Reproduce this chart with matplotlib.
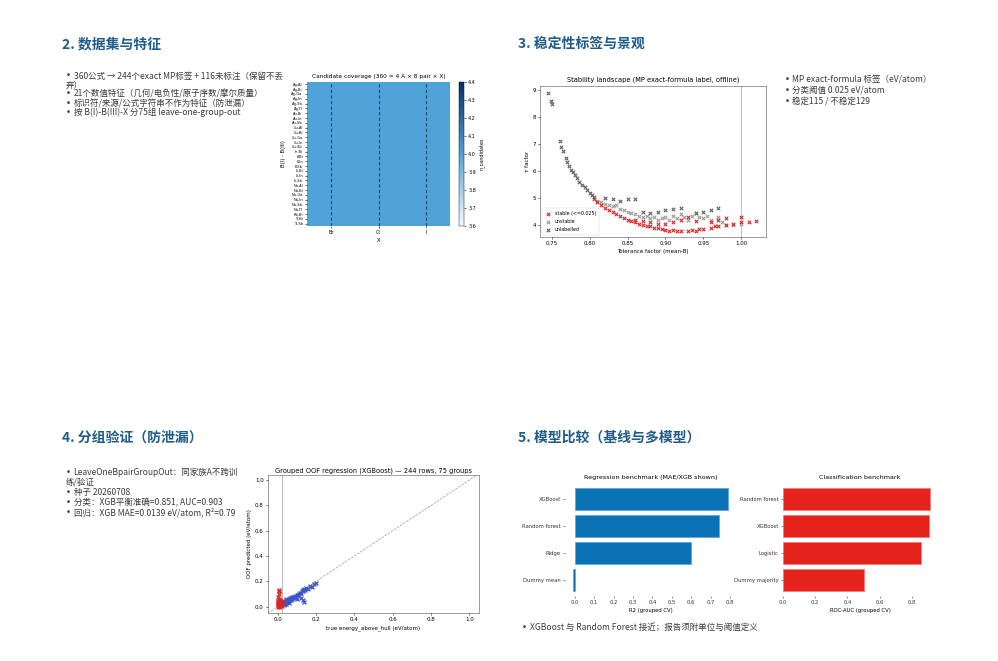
import numpy as np
import matplotlib
matplotlib.use("Agg")
import matplotlib.pyplot as plt
from matplotlib.colors import LinearSegmentedColormap

plt.rcParams['font.family'] = ['DejaVu Sans', 'Noto Sans CJK SC']
CJK = ['Noto Sans CJK SC', 'DejaVu Sans']

# ---------------- data ----------------
pair_labels = ["Ag-Al", "Ag-Bi", "Ag-Ga", "Ag-In", "Ag-Sb", "Ag-Tl", "Au-Bi", "Au-In", "Au-Sb", "Cu-Al",
               "Cu-Bi", "Cu-Ga", "Cu-In", "Cu-Sb", "In-Bi", "K-Bi", "K-In", "K-Sb", "Li-Bi", "Li-In",
               "Li-Sb", "Na-Al", "Na-Bi", "Na-Ga", "Na-In", "Na-Sb", "Na-Tl", "Rb-Bi", "Tl-Bi", "Tl-Sb"]
halides = ["Br", "Cl", "I"]
coverage = [[4, 4, 4], [4, 4, 4], [4, 4, 4], [4, 4, 4], [4, 4, 4], [4, 4, 4],
            [4, 4, 4], [4, 4, 4], [4, 4, 4], [4, 4, 4], [4, 4, 4], [4, 4, 4],
            [4, 4, 4], [4, 4, 4], [4, 4, 4], [4, 4, 4], [4, 4, 4], [4, 4, 4],
            [4, 4, 4], [4, 4, 4], [4, 4, 4], [4, 4, 4], [4, 4, 4], [4, 4, 4],
            [4, 4, 4], [4, 4, 4], [4, 4, 4], [4, 4, 4], [4, 4, 4], [4, 4, 4]]

stable_t = [0.805, 0.81, 0.815, 0.82, 0.825, 0.83, 0.835, 0.84, 0.845, 0.85,
            0.855, 0.86, 0.865, 0.87, 0.875, 0.88, 0.885, 0.89, 0.895, 0.90,
            0.905, 0.91, 0.915, 0.92, 0.93, 0.935, 0.94, 0.945, 0.95, 0.96,
            0.965, 0.97, 0.98, 0.99, 1.00, 1.01, 1.02, 0.90, 0.91, 0.92,
            0.93, 0.94, 0.96, 0.97, 0.98, 1.00, 0.86, 0.87, 0.88, 0.89]
stable_tau = [4.95, 4.85, 4.75, 4.65, 4.55, 4.50, 4.40, 4.35, 4.25, 4.20,
              4.15, 4.10, 4.05, 4.00, 3.98, 3.95, 3.90, 3.88, 3.85, 3.82,
              3.80, 3.82, 3.78, 3.80, 3.80, 3.82, 3.80, 3.85, 3.85, 3.90,
              3.95, 3.95, 4.00, 4.05, 4.10, 4.12, 4.15, 4.05, 4.10, 4.20,
              4.30, 4.15, 4.10, 4.20, 4.25, 4.30, 4.20, 4.15, 4.10, 4.05]
unstable_t = [0.81, 0.815, 0.82, 0.825, 0.83, 0.835, 0.84, 0.845, 0.85, 0.855,
              0.86, 0.865, 0.87, 0.875, 0.88, 0.885, 0.89, 0.895, 0.90, 0.905,
              0.91, 0.915, 0.92, 0.925, 0.93, 0.935, 0.94, 0.945, 0.95, 0.955,
              0.96, 0.97, 0.975, 0.98, 0.99, 1.00]
unstable_tau = [4.90, 4.85, 4.80, 4.75, 4.70, 4.75, 4.60, 4.55, 4.50, 4.45,
                4.40, 4.35, 4.30, 4.35, 4.25, 4.30, 4.20, 4.25, 4.30, 4.20,
                4.35, 4.25, 4.40, 4.30, 4.20, 4.35, 4.45, 4.30, 4.25, 4.35,
                4.20, 4.30, 4.10, 4.00, 4.00, 4.05]
unlab_t = [0.745, 0.748, 0.750, 0.760, 0.762, 0.765, 0.768, 0.770, 0.772, 0.775,
           0.778, 0.780, 0.783, 0.786, 0.790, 0.793, 0.796, 0.800, 0.803, 0.806,
           0.82, 0.83, 0.84, 0.85, 0.86, 0.87, 0.88, 0.89, 0.90, 0.91,
           0.92, 0.94, 0.95, 0.96, 0.97]
unlab_tau = [8.90, 8.60, 8.50, 7.10, 6.90, 6.75, 6.50, 6.35, 6.20, 6.05,
             5.95, 5.85, 5.75, 5.60, 5.50, 5.40, 5.30, 5.20, 5.10, 5.05,
             5.00, 4.95, 4.90, 4.95, 4.95, 4.50, 4.45, 4.50, 4.55, 4.60,
             4.65, 4.45, 4.50, 4.55, 4.62]

red_true = [0.0, 0.002, 0.004, 0.005, 0.006, 0.008, 0.01, 0.012, 0.014, 0.015,
            0.016, 0.018, 0.02, 0.022, 0.024, 0.0, 0.003, 0.007, 0.01, 0.013,
            0.017, 0.021, 0.001, 0.005, 0.009, 0.004, 0.005, 0.006, 0.005, 0.011, 0.019]
red_pred = [0.01, 0.0, 0.02, 0.03, 0.015, 0.005, 0.025, 0.04, 0.02, 0.01,
            0.035, 0.03, 0.02, 0.045, 0.03, 0.03, 0.045, 0.05, 0.0, 0.015,
            0.01, 0.005, 0.04, 0.06, 0.035, 0.08, 0.1, 0.12, 0.13, 0.055, 0.04]
blue_true = [0.026, 0.03, 0.032, 0.035, 0.038, 0.04, 0.042, 0.045, 0.048, 0.05,
             0.053, 0.055, 0.058, 0.06, 0.063, 0.065, 0.068, 0.07, 0.073, 0.075,
             0.078, 0.08, 0.085, 0.09, 0.095, 0.1, 0.105, 0.11, 0.115, 0.12,
             0.125, 0.13, 0.135, 0.14, 0.145, 0.15, 0.16, 0.17, 0.18, 0.19,
             0.2, 0.12, 0.13, 0.14, 0.1, 0.03, 0.045, 0.06]
blue_pred = [0.02, 0.03, 0.01, 0.035, 0.025, 0.04, 0.02, 0.045, 0.035, 0.05,
             0.04, 0.055, 0.045, 0.06, 0.05, 0.065, 0.055, 0.07, 0.06, 0.075,
             0.065, 0.08, 0.075, 0.085, 0.08, 0.09, 0.095, 0.1, 0.11, 0.105,
             0.12, 0.13, 0.125, 0.14, 0.135, 0.15, 0.14, 0.16, 0.155, 0.18,
             0.19, 0.07, 0.05, 0.04, 0.06, 0.045, 0.06, 0.03]

reg_models = ["XGBoost", "Random forest", "Ridge", "Dummy mean"]
reg_r2 = [0.79, 0.745, 0.60, -0.01]
cls_models = ["Random forest", "XGBoost", "Logistic", "Dummy majority"]
cls_auc = [0.91, 0.903, 0.858, 0.50]

title_color = "#1f5c8b"
text_color = "#3a3a3a"

sec_titles = ["2. 数据集与特征", "3. 稳定性标签与景观", "4. 分组验证（防泄漏）", "5. 模型比较（基线与多模型）"]
# (text, has_bullet)
bul2 = [("360公式 → 244个exact MP标签 + 116未标注（保留不丢", True), ("弃）", False),
        ("21个数值特征（几何/电负性/原子序数/摩尔质量）", True),
        ("标识符/来源/公式字符串不作为特征（防泄漏）", True),
        ("按 B(I)-B(III)-X 分75组 leave-one-group-out", True)]
bul3 = [("MP exact-formula 标签（eV/atom）", True), ("分类阈值 0.025 eV/atom", True),
        ("稳定115 / 不稳定129", True)]
bul4 = [("LeaveOneBpairGroupOut：同家族A不跨训", True), ("练/验证", False), ("种子 20260708", True),
        ("分类：XGB平衡准确=0.851, AUC=0.903", True), ("回归：XGB MAE=0.0139 eV/atom, R²=0.79", True)]
bul5 = [("XGBoost 与 Random Forest 接近；报告须附单位与阈值定义", True)]

# ---------------- layout helpers ----------------
W, H = 998, 661
fig = plt.figure(figsize=(W / 100, H / 100), dpi=100)
fig.patch.set_facecolor("white")


def px(l, t, r, b):
    return [l / W, 1 - b / H, (r - l) / W, (b - t) / H]


def ftext(x, y, s, **kw):
    fig.text(x / W, 1 - y / H, s, **kw)


def bullets(x, ys, items, fs=6.1):
    for y, (s, b) in zip(ys, items):
        if b:
            ftext(x, y, "•", fontsize=fs, color=text_color, family='DejaVu Sans', va='center')
            ftext(x + 7.5, y, s, fontsize=fs, color=text_color, family=CJK, va='center')
        else:
            ftext(x, y, s, fontsize=fs, color=text_color, family=CJK, va='center')


# section titles
for (x, y), s in zip([(62, 44), (518, 44), (62, 438), (518, 438)], sec_titles):
    ftext(x, y, s, fontsize=10, fontweight='bold', color=title_color, family=CJK, va='center')

bullets(66, [76, 85, 94, 103.5, 112.5], bul2)
bullets(785, [80, 90.5, 101], bul3)
bullets(66, [472.5, 482, 492.5, 502.5, 512.5], bul4)
bullets(522, [627], bul5)

# ---------------- panel 2: heatmap ----------------
cov_cmap = LinearSegmentedColormap.from_list("cov", ["#f7fbff", "#4ea3d8", "#08306b"])
axh = fig.add_axes(px(307, 82, 450, 226))
cov = np.array(coverage, dtype=float)
mesh = axh.pcolormesh(cov, cmap=cov_cmap, vmin=3.6, vmax=4.4)
axh.set_xlim(0, len(halides))
axh.set_ylim(len(pair_labels), 0)
for i in range(len(halides)):
    axh.axvline(i + 0.5, color="#24466a", ls=(0, (3, 2)), lw=0.8)
axh.set_xticks(np.arange(len(halides)) + 0.5)
axh.set_xticklabels(halides, fontsize=3.5)
axh.set_yticks(np.arange(len(pair_labels)) + 0.5)
axh.set_yticklabels(pair_labels, fontsize=2.6)
axh.tick_params(length=1.5, width=0.4, pad=1.5)
axh.set_xlabel("X", fontsize=3.8, labelpad=2)
axh.set_ylabel("B(I) - B(III)", fontsize=3.8, labelpad=4)
axh.set_title("Candidate coverage (360 = 4 A × 8 pair × X)", fontsize=4.2, pad=3)
for sp in axh.spines.values():
    sp.set_visible(False)
cax = fig.add_axes(px(459, 82, 464, 226))
cb = fig.colorbar(mesh, cax=cax)
cb.set_ticks([3.6, 3.7, 3.8, 3.9, 4.0, 4.1, 4.2, 4.3, 4.4])
cb.ax.tick_params(labelsize=3.5, length=1.5, width=0.4, pad=1.5)
cb.set_label("n_candidates", fontsize=3.5, labelpad=2)
cb.outline.set_linewidth(0.3)

# ---------------- panel 3: stability landscape ----------------
ax3 = fig.add_axes(px(540, 86, 766, 237))
ax3.scatter(stable_t, stable_tau, marker='x', s=6, lw=0.8, color="#d62728", label="stable (<=0.025)", zorder=3)
ax3.scatter(unstable_t, unstable_tau, marker='x', s=6, lw=0.8, color="#9a9a9a", label="unstable", zorder=2)
ax3.scatter(unlab_t, unlab_tau, marker='x', s=6, lw=0.8, color="#5e5e5e", label="unlabelled", zorder=2)
ax3.axvline(1.0, color="#bdbdbd", lw=0.7)
ax3.set_xlim(0.734, 1.033)
ax3.set_ylim(3.56, 9.15)
ax3.set_xticks([0.75, 0.80, 0.85, 0.90, 0.95, 1.00])
ax3.set_yticks([4, 5, 6, 7, 8, 9])
ax3.tick_params(labelsize=4, length=1.5, width=0.4, pad=1.5)
ax3.set_xlabel("Tolerance factor (mean-B)", fontsize=4, labelpad=2)
ax3.set_ylabel("τ factor", fontsize=4, labelpad=2)
ax3.set_title("Stability landscape (MP exact-formula label, offline)", fontsize=4.8, pad=3)
for sp in ax3.spines.values():
    sp.set_linewidth(0.4)
    sp.set_color("#555555")
leg = ax3.legend(loc="lower left", fontsize=3.4, markerscale=1.0, handlelength=1.2,
                 borderpad=0.6, labelspacing=0.6, frameon=True)
leg.get_frame().set_linewidth(0.3)

# ---------------- panel 4: grouped OOF regression ----------------
ax4 = fig.add_axes(px(268, 475, 479, 613))
ax4.plot([-0.05, 1.05], [-0.05, 1.05], ls='--', color="#999999", lw=0.5, zorder=1)
ax4.axvline(0.025, color="#bbbbbb", lw=0.7, zorder=1)
ax4.scatter(blue_true, blue_pred, marker='x', s=8, lw=0.9, color="#3a55c8", zorder=3)
ax4.scatter(red_true, red_pred, marker='x', s=8, lw=0.9, color="#d62728", zorder=4)
ax4.set_xlim(-0.05, 1.05)
ax4.set_ylim(-0.05, 1.04)
ax4.set_xticks([0.0, 0.2, 0.4, 0.6, 0.8, 1.0])
ax4.set_yticks([0.0, 0.2, 0.4, 0.6, 0.8, 1.0])
ax4.tick_params(labelsize=4, length=1.5, width=0.4, pad=1.5)
ax4.set_xlabel("true energy_above_hull (eV/atom)", fontsize=4, labelpad=2)
ax4.set_ylabel("OOF predicted (eV/atom)", fontsize=4, labelpad=2)
ax4.set_title("Grouped OOF regression (XGBoost) — 244 rows, 75 groups", fontsize=4.8, pad=2)
for sp in ax4.spines.values():
    sp.set_linewidth(0.4)
    sp.set_color("#555555")

# ---------------- panel 5: benchmarks ----------------
ax5a = fig.add_axes(px(565, 483, 736, 596))
yy = np.arange(len(reg_models))[::-1]
ax5a.barh(yy, reg_r2, height=0.8, color="#0b72b5", edgecolor="#5aa6d6", lw=0.5)
ax5a.set_yticks(yy)
ax5a.set_yticklabels(reg_models)
ax5a.set_xticks([0.0, 0.1, 0.2, 0.3, 0.4, 0.5, 0.6, 0.7, 0.8])
ax5a.tick_params(labelsize=3.8, length=1.5, width=0.4, pad=1.5, colors="#333333")
ax5a.set_xlabel("R2 (grouped CV)", fontsize=3.8, labelpad=2)
ax5a.set_title("Regression benchmark (MAE/XGB shown)", fontsize=4.6, pad=3)
for sp in ax5a.spines.values():
    sp.set_visible(False)

ax5b = fig.add_axes(px(783, 483, 937, 596))
yy2 = np.arange(len(cls_models))[::-1]
ax5b.barh(yy2, cls_auc, height=0.8, color="#e3231c", edgecolor="#f07a74", lw=0.5)
ax5b.set_yticks(yy2)
ax5b.set_yticklabels(cls_models)
ax5b.set_xticks([0.0, 0.2, 0.4, 0.6, 0.8])
ax5b.tick_params(labelsize=3.8, length=1.5, width=0.4, pad=1.5, colors="#333333")
ax5b.set_xlabel("ROC-AUC (grouped CV)", fontsize=3.8, labelpad=2)
ax5b.set_title("Classification benchmark", fontsize=4.6, pad=3)
for sp in ax5b.spines.values():
    sp.set_visible(False)

fig.savefig("out.png", dpi=100, facecolor="white")
